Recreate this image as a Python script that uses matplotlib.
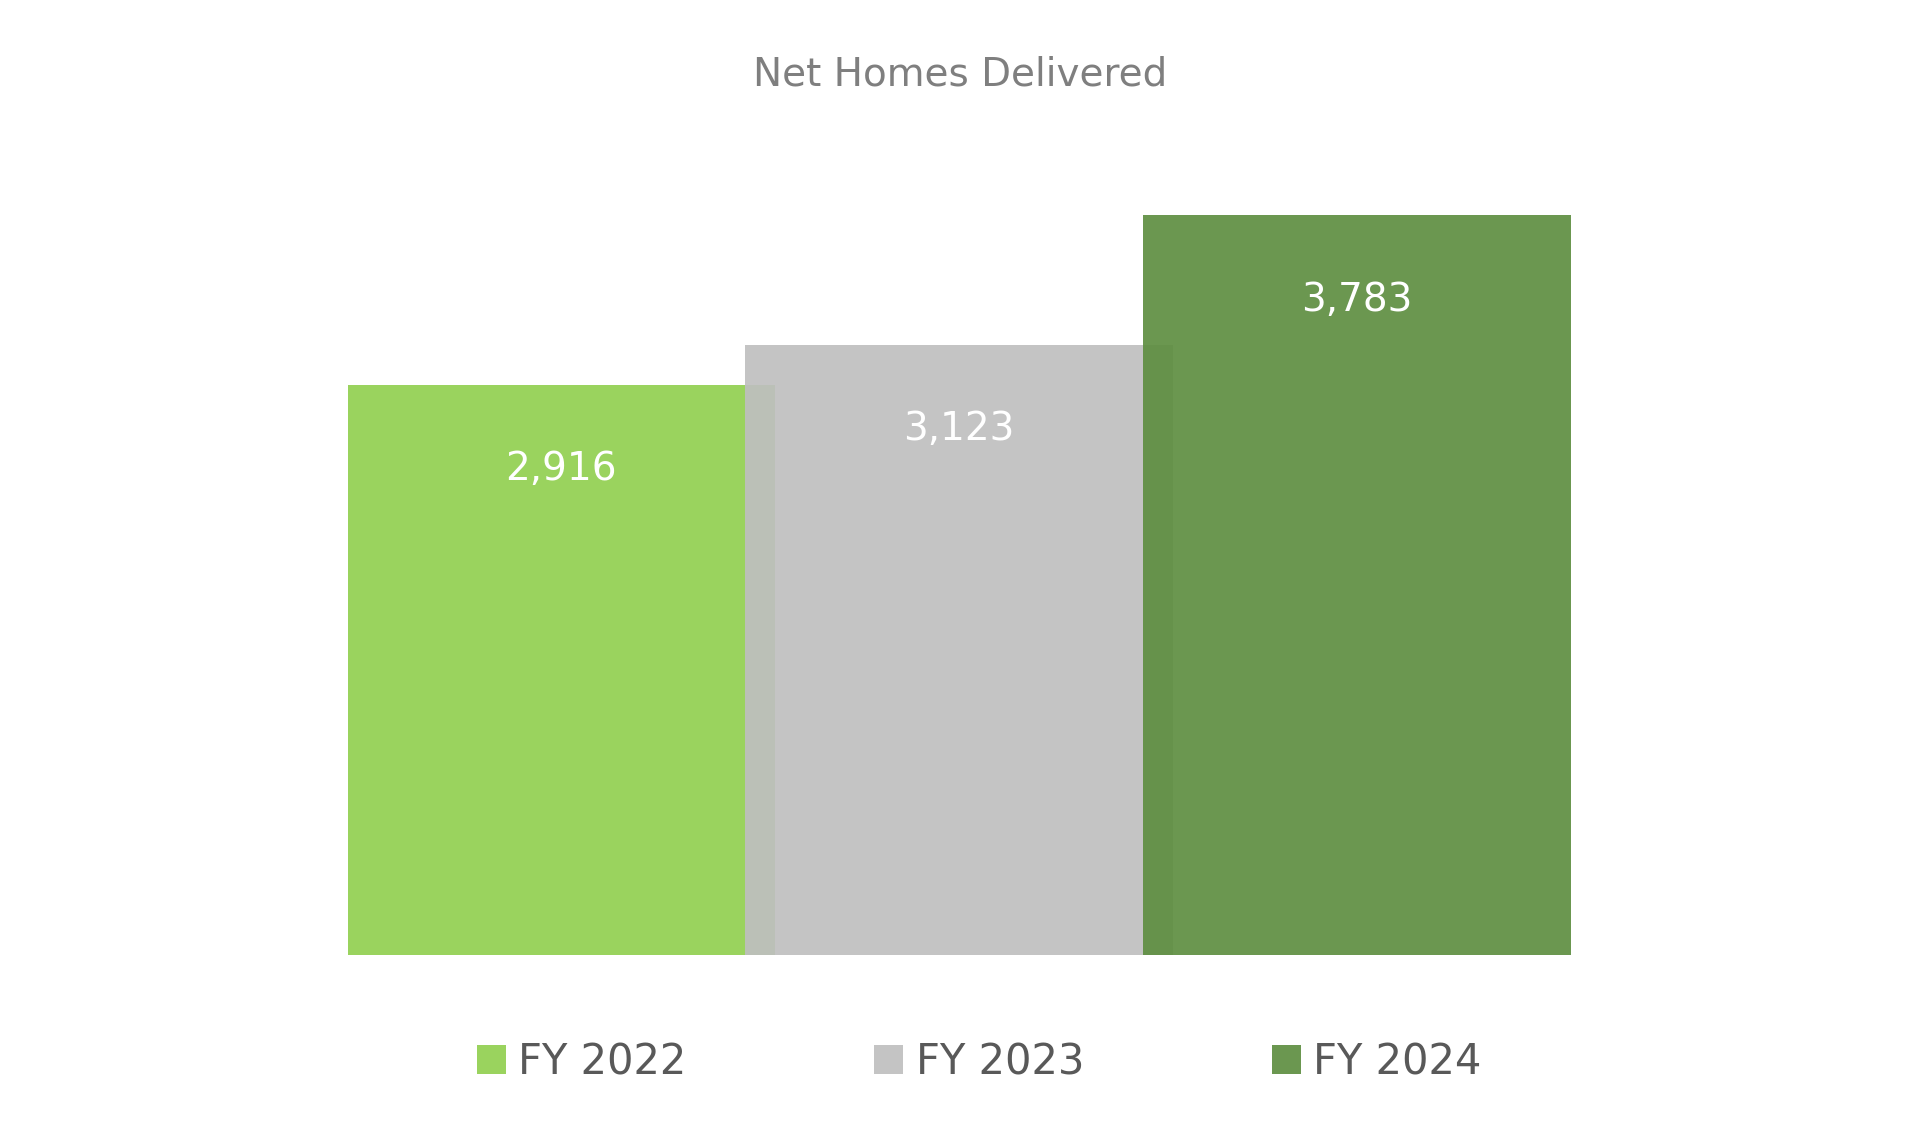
import matplotlib
matplotlib.use('Agg')
import matplotlib.pyplot as plt
from matplotlib.patches import Patch

categories = ['FY 2022', 'FY 2023', 'FY 2024']
homes = [2916, 3123, 3783]
labels = ['2,916', '3,123', '3,783']
colors = ['#92D050', '#BFBFBF', '#5E8E41']

plt.rcParams['font.family'] = ['DejaVu Sans']

fig = plt.figure(figsize=(19.2, 11.4), dpi=100, facecolor='white')
ax = fig.add_axes([0.181, 0.162, 0.637, 0.649])

x = list(range(len(categories)))
ax.bar(x, homes, width=1.075, color=colors, alpha=0.92, linewidth=0)
for xi, v, lab in zip(x, homes, labels):
    ax.text(xi, v - 430, lab, ha='center', va='center', color='white', fontsize=28)

ax.set_xlim(-0.5375, 2.5375)
ax.set_ylim(0, 3783)
ax.axis('off')

fig.text(0.5, 0.935, 'Net Homes Delivered', ha='center', va='center',
         color='#7F7F7F', fontsize=28)

handles = [Patch(facecolor=c, alpha=0.92) for c in colors]
fig.legend(handles, categories, loc='center', bbox_to_anchor=(0.51, 0.068), ncol=3,
           frameon=False, fontsize=30, labelcolor='#595959', handlelength=0.7,
           handleheight=0.7, handletextpad=0.3, columnspacing=4.5)

fig.savefig('out.png', dpi=100, facecolor='white')
